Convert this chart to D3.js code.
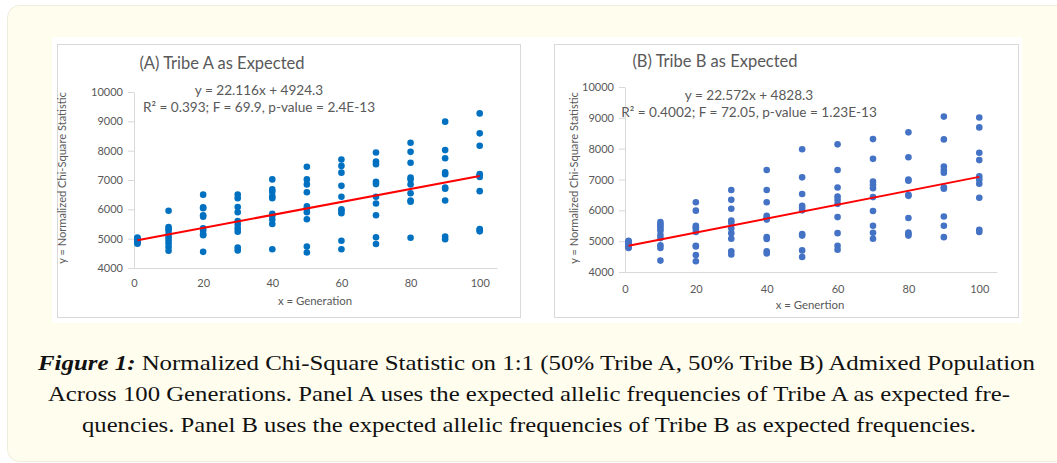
<!DOCTYPE html>
<html>
<head>
<meta charset="utf-8">
<script src="https://cdn.jsdelivr.net/npm/d3@7"></script>
<style>
html,body{margin:0;padding:0;background:#ffffff;}
svg{display:block;}
</style>
</head>
<body>
<svg id="chart" width="1057" height="463"></svg>
<script>
// ---------------- DATA ----------------
const generations = [1, 10, 20, 30, 40, 50, 60, 70, 80, 90, 100];
const xTicks = [0, 20, 40, 60, 80, 100];
const yTicks = [4000, 5000, 6000, 7000, 8000, 9000, 10000];

const tribeAValues = [
  [4830, 4860, 4880, 4900, 4920, 4950, 4970, 4990, 5010, 5040],
  [5950, 5400, 5330, 5270, 5150, 5050, 4950, 4840, 4720, 4590],
  [6500, 6070, 6040, 5800, 5750, 5350, 5270, 5150, 5120, 4550],
  [6500, 6380, 6080, 5900, 5600, 5480, 5350, 5240, 4700, 4600],
  [7020, 6680, 6600, 6450, 6380, 5850, 5780, 5650, 5500, 4640],
  [7450, 7020, 6850, 6580, 6100, 6020, 5900, 5660, 4730, 4530],
  [7700, 7480, 7250, 6800, 6430, 6000, 5950, 5870, 4930, 4640],
  [7940, 7630, 7540, 6940, 6860, 6430, 6200, 5800, 5050, 4820],
  [8270, 7960, 7590, 7080, 7020, 6850, 6550, 6300, 6260, 5030],
  [8990, 8020, 7740, 7260, 7200, 6740, 6700, 6300, 5070, 4980],
  [9270, 8590, 8170, 7200, 7150, 7100, 6620, 5330, 5290, 5250]
];
const tribeBValues = [
  [4780, 4800, 4830, 4860, 4880, 4900, 4930, 4960, 4990, 5010],
  [5620, 5550, 5480, 5400, 5340, 5200, 5100, 4870, 4780, 4370],
  [6260, 5990, 5500, 5450, 5400, 5300, 4850, 4830, 4550, 4350],
  [6660, 6340, 6050, 5670, 5600, 5420, 5260, 5080, 4670, 4570],
  [7310, 6660, 6260, 5820, 5760, 5700, 5130, 5070, 4670, 4600],
  [7980, 7070, 6530, 6150, 6080, 6000, 5230, 5180, 4700, 4490],
  [8140, 7310, 6740, 6450, 6340, 6210, 5780, 5260, 4850, 4720],
  [8310, 7670, 6930, 6830, 6720, 6430, 5980, 5500, 5270, 5080],
  [8530, 7720, 7000, 6960, 6500, 6470, 5750, 5280, 5230, 5180],
  [9040, 8300, 7420, 7310, 7220, 6750, 6700, 5800, 5500, 5130],
  [9010, 8690, 7870, 7630, 7100, 6990, 6860, 6410, 5370, 5300]
];
const trendSlopes = [22.116, 22.572];
const trendIntercepts = [4924.3, 4828.3];
const panelTitles = ["(A) Tribe A as Expected", "(B) Tribe B as Expected"];
const equationLines = [
  ["y = 22.116x + 4924.3", "R\u00B2 = 0.393; F = 69.9, p-value = 2.4E-13"],
  ["y = 22.572x + 4828.3", "R\u00B2 = 0.4002; F = 72.05, p-value = 1.23E-13"]
];
const xAxisTitles = ["x = Generation", "x = Genertion"];
const yAxisTitle = "y = Normalized Chi-Square Statistic";
const captionLines = [
  ["Figure 1:", " Normalized Chi-Square Statistic on 1:1 (50% Tribe A, 50% Tribe B) Admixed Population"],
  ["", "Across 100 Generations. Panel A uses the expected allelic frequencies of Tribe A as expected fre-"],
  ["", "quencies. Panel B uses the expected allelic frequencies of Tribe B as expected frequencies."]
];

// ---------------- LAYOUT ----------------
const svg = d3.select("#chart");
const FONT = "Lato, 'Open Sans', sans-serif";
const TXT = "#595959";

svg.append("rect").attr("x", 7.5).attr("y", 5.5).attr("width", 1070).attr("height", 456)
  .attr("rx", 12).attr("fill", "#fffdee").attr("stroke", "#efedde");
svg.append("rect").attr("x", 52).attr("y", 37).attr("width", 970).attr("height", 286).attr("fill", "#ffffff");

const panels = [
  { box: [57.5, 44.5, 463, 273], xr: [134, 497], yr: [268, 92], color: "#0070C0",
    data: tribeAValues, title: [222, 69], eq: [259, 95, 112], xlab: [315, 305], ylab: [66, 178], xTickY: 286 },
  { box: [554.5, 44.5, 464, 273], xr: [625, 997], yr: [272, 87], color: "#4472C4",
    data: tribeBValues, title: [715, 67], eq: [749, 100, 117], xlab: [810, 309], ylab: [578, 178], xTickY: 292 }
];

panels.forEach((p, i) => {
  const g = svg.append("g");
  g.append("rect").attr("x", p.box[0]).attr("y", p.box[1]).attr("width", p.box[2]).attr("height", p.box[3])
    .attr("fill", "#fff").attr("stroke", "#d9d9d9");

  const x = d3.scaleLinear().domain([0, 105]).range(p.xr);
  const y = d3.scaleLinear().domain([4000, 10000]).range(p.yr);

  // y axis
  const ya = g.append("g").attr("transform", `translate(${p.xr[0]},0)`)
    .call(d3.axisLeft(y).tickValues(yTicks).tickFormat(d3.format("d")).tickSize(6).tickPadding(5).tickSizeOuter(0));
  ya.select(".domain").attr("stroke", "#d9d9d9");
  ya.selectAll(".tick line").attr("stroke", "#d9d9d9");
  ya.selectAll(".tick text").attr("fill", TXT).attr("font-family", FONT).attr("font-size", 11);

  // x axis
  const xa = g.append("g").attr("transform", `translate(0,${p.yr[0]})`)
    .call(d3.axisBottom(x).tickValues(xTicks).tickFormat(d3.format("d")).tickSize(0).tickPadding(p.xTickY - p.yr[0] - 7).tickSizeOuter(0));
  xa.select(".domain").attr("stroke", "#d9d9d9");
  xa.selectAll(".tick text").attr("fill", TXT).attr("font-family", FONT).attr("font-size", 11);

  // points
  const pts = [];
  p.data.forEach((vals, gi) => vals.forEach(v => pts.push([generations[gi], v])));
  g.selectAll("circle.pt").data(pts).enter().append("circle")
    .attr("class", "pt").attr("cx", d => x(d[0])).attr("cy", d => y(d[1]))
    .attr("r", 3.3).attr("fill", p.color);

  // trend line
  const x0 = generations[0], x1 = generations[generations.length - 1];
  g.append("line")
    .attr("x1", x(x0)).attr("y1", y(trendSlopes[i] * x0 + trendIntercepts[i]))
    .attr("x2", x(x1)).attr("y2", y(trendSlopes[i] * x1 + trendIntercepts[i]))
    .attr("stroke", "#ff0000").attr("stroke-width", 2);

  // texts
  g.append("text").attr("x", p.title[0]).attr("y", p.title[1]).attr("text-anchor", "middle")
    .attr("font-family", FONT).attr("font-size", 16.5).attr("fill", TXT).text(panelTitles[i]);
  g.append("text").attr("x", p.eq[0]).attr("y", p.eq[1]).attr("text-anchor", "middle")
    .attr("font-family", FONT).attr("font-size", 13.6).attr("fill", TXT).text(equationLines[i][0]);
  g.append("text").attr("x", p.eq[0]).attr("y", p.eq[2]).attr("text-anchor", "middle")
    .attr("font-family", FONT).attr("font-size", 13.6).attr("fill", TXT).text(equationLines[i][1]);
  g.append("text").attr("x", p.xlab[0]).attr("y", p.xlab[1]).attr("text-anchor", "middle")
    .attr("font-family", FONT).attr("font-size", 11.4).attr("fill", TXT).text(xAxisTitles[i]);
  g.append("text").attr("transform", `translate(${p.ylab[0]},${p.ylab[1]}) rotate(-90)`)
    .attr("text-anchor", "middle").attr("font-family", FONT).attr("font-size", 11.1).attr("fill", TXT)
    .text(yAxisTitle);
});

// caption
const capPos = [[38, 370, 997], [48, 401, 962], [82, 432, 894]];
captionLines.forEach((ln, i) => {
  const t = svg.append("text").attr("x", capPos[i][0]).attr("y", capPos[i][1])
    .attr("font-family", "'Liberation Serif', 'DejaVu Serif', serif").attr("font-size", 22)
    .attr("fill", "#111111")
    .attr("textLength", capPos[i][2]).attr("lengthAdjust", "spacingAndGlyphs");
  if (ln[0]) t.append("tspan").attr("font-weight", "bold").attr("font-style", "italic").text(ln[0]);
  t.append("tspan").text(ln[1]);
});
</script>
</body>
</html>
